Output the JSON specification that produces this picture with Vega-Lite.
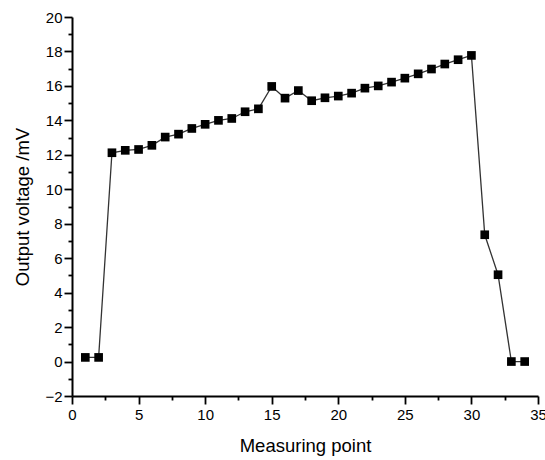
{
  "$schema": "https://vega.github.io/schema/vega-lite/v6.json",
  "autosize": "none",
  "width": 466,
  "height": 379,
  "padding": {"left": 72, "top": 17, "right": 7, "bottom": 64},
  "background": "white",
  "config": {
    "view": {"stroke": null},
    "font": "Liberation Sans",
    "axis": {
      "domainColor": "black",
      "domainWidth": 2,
      "tickColor": "black",
      "tickWidth": 1.8,
      "labelColor": "black",
      "labelFont": "Liberation Sans",
      "labelFontSize": 15,
      "titleFont": "Liberation Sans",
      "titleFontSize": 18.5,
      "titleFontWeight": "normal",
      "titleColor": "black",
      "grid": false
    }
  },
  "data": {
    "values": [
      {"point": 1, "voltage": 0.24},
      {"point": 2, "voltage": 0.24},
      {"point": 3, "voltage": 12.12},
      {"point": 4, "voltage": 12.26},
      {"point": 5, "voltage": 12.31},
      {"point": 6, "voltage": 12.55},
      {"point": 7, "voltage": 13.03},
      {"point": 8, "voltage": 13.2},
      {"point": 9, "voltage": 13.53},
      {"point": 10, "voltage": 13.77},
      {"point": 11, "voltage": 14.0},
      {"point": 12, "voltage": 14.11},
      {"point": 13, "voltage": 14.5},
      {"point": 14, "voltage": 14.67},
      {"point": 15, "voltage": 15.97},
      {"point": 16, "voltage": 15.29},
      {"point": 17, "voltage": 15.73},
      {"point": 18, "voltage": 15.14},
      {"point": 19, "voltage": 15.31},
      {"point": 20, "voltage": 15.41},
      {"point": 21, "voltage": 15.58},
      {"point": 22, "voltage": 15.87},
      {"point": 23, "voltage": 16.0},
      {"point": 24, "voltage": 16.22},
      {"point": 25, "voltage": 16.45},
      {"point": 26, "voltage": 16.7},
      {"point": 27, "voltage": 16.98},
      {"point": 28, "voltage": 17.27},
      {"point": 29, "voltage": 17.52},
      {"point": 30, "voltage": 17.77},
      {"point": 31, "voltage": 7.36},
      {"point": 32, "voltage": 5.04},
      {"point": 33, "voltage": 0.0},
      {"point": 34, "voltage": 0.0}
    ]
  },
  "encoding": {
    "x": {
      "field": "point",
      "type": "quantitative",
      "title": "Measuring point",
      "scale": {"domain": [0, 35], "nice": false, "zero": false},
      "axis": {
        "values": [0, 2.5, 5, 7.5, 10, 12.5, 15, 17.5, 20, 22.5, 25, 27.5, 30, 32.5, 35],
        "labelExpr": "datum.value % 5 === 0 ? datum.label : ''",
        "tickSize": {"condition": {"test": "datum.value % 5 === 0", "value": 8}, "value": 4},
        "labelPadding": 3,
        "labelFlush": false,
        "labelOverlap": false,
        "titlePadding": 14
      }
    },
    "y": {
      "field": "voltage",
      "type": "quantitative",
      "title": "Output voltage /mV",
      "scale": {"domain": [-2, 20], "nice": false, "zero": false},
      "axis": {
        "values": [-2, -1, 0, 1, 2, 3, 4, 5, 6, 7, 8, 9, 10, 11, 12, 13, 14, 15, 16, 17, 18, 19, 20],
        "labelExpr": "datum.value % 2 === 0 ? datum.label : ''",
        "tickSize": {"condition": {"test": "datum.value % 2 === 0", "value": 8}, "value": 4},
        "labelPadding": 2,
        "labelFlush": false,
        "labelOverlap": false,
        "titlePadding": 12
      }
    }
  },
  "layer": [
    {"mark": {"type": "line", "color": "#333333", "strokeWidth": 1.3}},
    {"mark": {"type": "point", "shape": "square", "filled": true, "color": "black", "opacity": 1, "size": 75}}
  ]
}
